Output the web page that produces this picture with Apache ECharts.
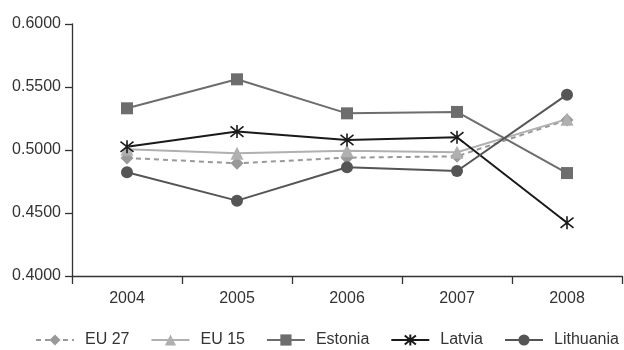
<!DOCTYPE html>
<html><head><meta charset="utf-8">
<script src="https://cdn.jsdelivr.net/npm/echarts@6/dist/echarts.min.js"></script>
<style>html,body{margin:0;padding:0;background:#fff}#c{width:624px;height:350px}</style>
</head><body><div id="c"></div>
<script>
var categories = ['2004','2005','2006','2007','2008'];
var eu27 = [0.4937, 0.4894, 0.4939, 0.4950, 0.5238];
var eu15 = [0.5005, 0.4974, 0.4995, 0.4982, 0.5245];
var estonia = [0.5331, 0.5561, 0.5291, 0.5302, 0.4817];
var latvia = [0.5026, 0.5146, 0.5079, 0.5101, 0.4423];
var lithuania = [0.4823, 0.4598, 0.4863, 0.4833, 0.5439];
var yTicks = [0.4, 0.45, 0.5, 0.55, 0.6];

var FONT = "'Liberation Sans', Arial, sans-serif";
var star = 'path://M-7,-8L7,8M-7,8L7,-8M0,-10L0,10';
function mk(name, data, color, symbol, size, dashed, lw) {
  return {
    name: name, type: 'line', data: data, symbol: symbol, symbolSize: size,
    showAllSymbol: true,
    lineStyle: {color: color, width: lw || 2, type: dashed ? [5, 4] : 'solid'},
    itemStyle: symbol === star ? {color: color, borderColor: color, borderWidth: 1.6} : {color: color},
    emphasis: {disabled: true}
  };
}
var chart = echarts.init(document.getElementById('c'), null, {renderer: 'canvas'});
chart.setOption({
  animation: false,
  grid: {left: 72, right: 2, top: 24, bottom: 74},
  xAxis: {
    type: 'category', data: categories, boundaryGap: true,
    axisLine: {lineStyle: {color: '#333', width: 1.3}},
    axisTick: {show: true, length: 8, inside: false, lineStyle: {color: '#333', width: 1.3}},
    axisLabel: {color: '#333', fontFamily: FONT, fontSize: 16, margin: 15}
  },
  yAxis: {
    type: 'value', min: 0.4, max: 0.6, interval: 0.05,
    splitLine: {show: false},
    axisLine: {show: true, lineStyle: {color: '#333', width: 1.3}},
    axisTick: {show: true, length: 7, lineStyle: {color: '#333', width: 1.3}},
    axisLabel: {color: '#333', fontFamily: FONT, fontSize: 16, margin: 11,
      formatter: function (v) { return v.toFixed(4); }}
  },
  legend: {
    top: 332, left: 35, width: 589, padding: 0, itemWidth: 38, itemHeight: 14, itemGap: 21,
    textStyle: {color: '#333', fontFamily: FONT, fontSize: 16, padding: [0, 0, 0, 6]},
    data: ['EU 27', 'EU 15', 'Estonia', 'Latvia', 'Lithuania']
  },
  series: [
    mk('EU 27', eu27, '#999999', 'diamond', 13, true),
    mk('EU 15', eu15, '#b0b0b0', 'triangle', 13, false),
    mk('Estonia', estonia, '#6d6d6d', 'rect', 12, false),
    mk('Latvia', latvia, '#1a1a1a', star, 13, false),
    mk('Lithuania', lithuania, '#555555', 'circle', 12, false)
  ]
});
</script></body></html>
